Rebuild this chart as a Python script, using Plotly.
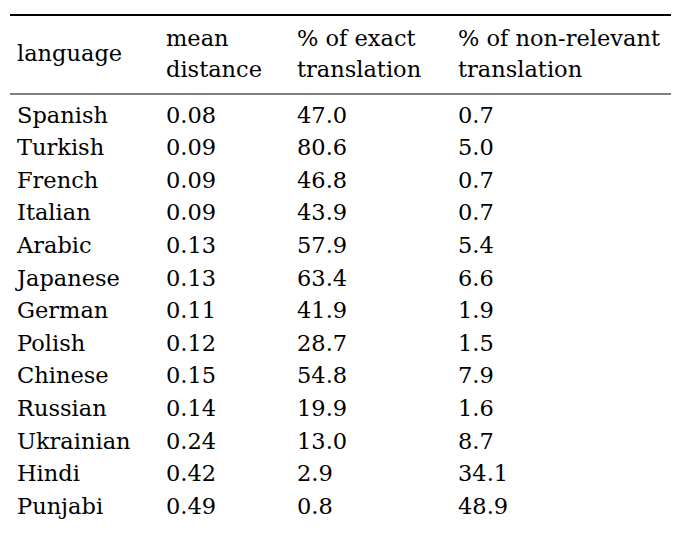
import plotly.graph_objects as go

header1 = ["language", "mean", "% of exact", "% of non-relevant"]
header2 = ["", "distance", "translation", "translation"]
languages = ["Spanish", "Turkish", "French", "Italian", "Arabic", "Japanese", "German",
             "Polish", "Chinese", "Russian", "Ukrainian", "Hindi", "Punjabi"]
mean_distance = ["0.08", "0.09", "0.09", "0.09", "0.13", "0.13", "0.11",
                 "0.12", "0.15", "0.14", "0.24", "0.42", "0.49"]
exact_pct = ["47.0", "80.6", "46.8", "43.9", "57.9", "63.4", "41.9",
             "28.7", "54.8", "19.9", "13.0", "2.9", "0.8"]
nonrel_pct = ["0.7", "5.0", "0.7", "0.7", "5.4", "6.6", "1.9",
              "1.5", "7.9", "1.6", "8.7", "34.1", "48.9"]

col_x = [9, 158, 289, 450]
row0, row_step = 109, 32.6
font = dict(family="DejaVu Serif", size=22.5, color="black")

fig = go.Figure()
columns = [languages, mean_distance, exact_pct, nonrel_pct]
for cx, vals in zip(col_x, columns):
    fig.add_trace(go.Scatter(x=[cx] * len(vals), y=[row0 + i * row_step for i in range(len(vals))],
                             mode="text", text=vals, textposition="middle right",
                             textfont=font, hoverinfo="skip"))
for cx, h1, h2 in zip(col_x, header1, header2):
    if h2:
        fig.add_trace(go.Scatter(x=[cx, cx], y=[32, 63], mode="text", text=[h1, h2],
                                 textposition="middle right", textfont=font, hoverinfo="skip"))
    else:
        fig.add_trace(go.Scatter(x=[cx], y=[47], mode="text", text=[h1],
                                 textposition="middle right", textfont=font, hoverinfo="skip"))

fig.add_shape(type="line", x0=2, x1=663, y0=7, y1=7, xref="x", yref="y", line=dict(color="black", width=2))
fig.add_shape(type="line", x0=2, x1=663, y0=86, y1=86, xref="x", yref="y", line=dict(color="black", width=1.2))

fig.update_xaxes(range=[0, 680], visible=False, fixedrange=True)
fig.update_yaxes(range=[534, 0], visible=False, fixedrange=True)
fig.update_layout(width=680, height=534, margin=dict(l=0, r=0, t=0, b=0),
                  showlegend=False, plot_bgcolor="white", paper_bgcolor="white")
fig.write_html("out.html")
